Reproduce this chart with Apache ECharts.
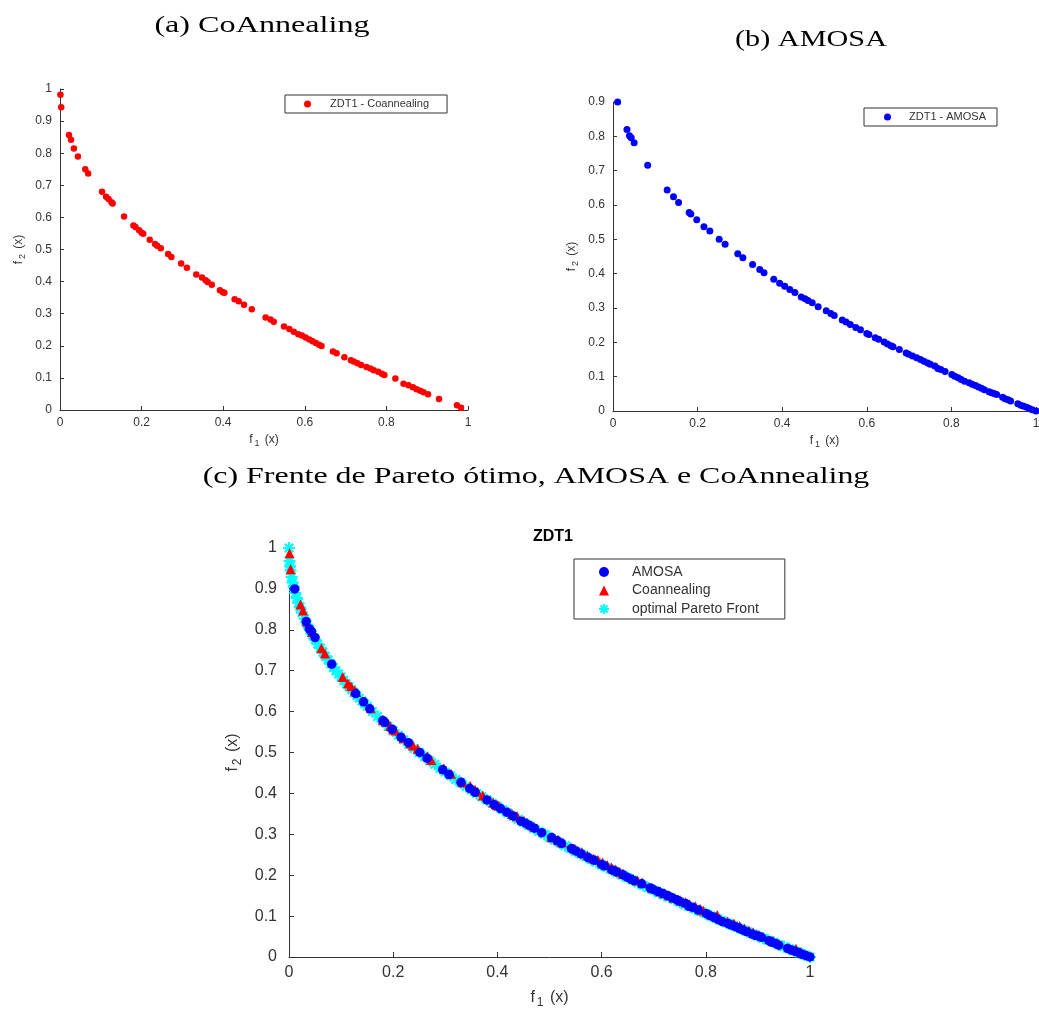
<!DOCTYPE html>
<html>
<head>
<meta charset="utf-8">
<script src="https://cdn.jsdelivr.net/npm/echarts@6/dist/echarts.min.js"></script>
<style>
html,body{margin:0;padding:0;background:#fff;}
#main{width:1039px;height:1010px;}
</style>
</head>
<body>
<div id="main"></div>
<script>
// ---- Data ----
const coX = [0.001,0.003,0.022,0.027,0.034,0.044,0.062,0.069,0.103,0.113,
  0.119,0.126,0.129,0.157,0.180,0.185,0.194,0.200,0.204,0.220,
  0.233,0.238,0.247,0.265,0.273,0.297,0.311,0.334,0.348,0.357,
  0.362,0.372,0.392,0.399,0.403,0.428,0.438,0.451,0.470,0.504,
  0.516,0.524,0.549,0.562,0.573,0.584,0.593,0.602,0.611,0.619,
  0.627,0.635,0.641,0.669,0.678,0.697,0.713,0.720,0.729,0.738,
  0.751,0.761,0.769,0.780,0.789,0.795,0.822,0.842,0.854,0.865,
  0.874,0.883,0.891,0.902,0.929,0.973,0.983];
const coY = [0.982,0.943,0.857,0.842,0.815,0.790,0.750,0.737,0.680,0.664,
  0.657,0.647,0.643,0.603,0.575,0.570,0.560,0.552,0.549,0.530,
  0.517,0.512,0.504,0.486,0.477,0.456,0.443,0.422,0.413,0.404,
  0.399,0.390,0.373,0.367,0.365,0.345,0.339,0.328,0.314,0.288,
  0.282,0.275,0.260,0.252,0.244,0.236,0.232,0.226,0.220,0.214,
  0.209,0.203,0.199,0.182,0.177,0.164,0.155,0.151,0.146,0.140,
  0.134,0.129,0.124,0.119,0.113,0.109,0.098,0.082,0.077,0.071,
  0.065,0.060,0.055,0.049,0.034,0.015,0.007];

const amX = [0.011,0.033,0.039,0.043,0.050,0.082,0.128,0.143,0.155,0.180,
  0.184,0.198,0.215,0.229,0.251,0.265,0.295,0.307,0.330,0.347,
  0.357,0.380,0.394,0.406,0.418,0.430,0.445,0.454,0.461,0.471,
  0.485,0.504,0.515,0.523,0.542,0.551,0.561,0.574,0.585,0.600,
  0.605,0.620,0.628,0.641,0.649,0.657,0.662,0.677,0.693,0.699,
  0.708,0.718,0.727,0.735,0.744,0.750,0.761,0.768,0.775,0.785,
  0.801,0.808,0.816,0.823,0.831,0.842,0.849,0.857,0.864,0.871,
  0.878,0.889,0.895,0.901,0.907,0.921,0.927,0.934,0.940,0.957,
  0.964,0.971,0.978,0.984,0.991,1.000];
const amY = [0.900,0.820,0.802,0.796,0.781,0.716,0.644,0.624,0.607,0.578,
  0.574,0.557,0.537,0.524,0.500,0.486,0.458,0.446,0.427,0.412,
  0.403,0.384,0.372,0.363,0.354,0.345,0.332,0.327,0.322,0.315,
  0.304,0.292,0.284,0.278,0.265,0.259,0.252,0.243,0.237,0.226,
  0.223,0.213,0.209,0.201,0.195,0.190,0.187,0.179,0.169,0.165,
  0.160,0.155,0.150,0.145,0.140,0.136,0.131,0.124,0.121,0.115,
  0.106,0.101,0.097,0.092,0.087,0.082,0.078,0.074,0.070,0.066,
  0.062,0.056,0.053,0.051,0.048,0.040,0.036,0.033,0.029,0.021,
  0.017,0.014,0.011,0.007,0.004,0.000];

const paretoX = [0,0.001,0.002,0.003,0.005,0.007,0.009,0.012,0.015,0.018,
  0.021,0.025,0.03,0.035,0.04,0.045,0.05,0.055,0.06,0.065,
  0.07,0.075,0.08,0.085,0.09,0.095,0.1,0.105,0.11,0.115,
  0.12,0.125,0.13,0.135,0.14,0.145,0.15,0.16,0.17,0.18,
  0.19,0.20,0.21,0.22,0.23,0.24,0.25,0.26,0.27,0.28,
  0.29,0.30,0.31,0.32,0.33,0.34,0.35,0.36,0.37,0.38,
  0.39,0.40,0.41,0.42,0.43,0.44,0.45,0.46,0.47,0.48,
  0.49,0.50,0.51,0.52,0.53,0.54,0.55,0.56,0.57,0.58,
  0.59,0.60,0.61,0.62,0.63,0.64,0.65,0.66,0.67,0.68,
  0.69,0.70,0.71,0.72,0.73,0.74,0.75,0.76,0.77,0.78,
  0.79,0.80,0.81,0.82,0.83,0.84,0.85,0.86,0.87,0.88,
  0.89,0.90,0.91,0.92,0.93,0.94,0.95,0.96,0.97,0.98,
  0.99,1.00];
const paretoY = [1,0.968,0.955,0.945,0.929,0.916,0.905,0.890,0.878,0.866,
  0.855,0.842,0.827,0.813,0.800,0.788,0.776,0.765,0.755,0.745,
  0.735,0.726,0.717,0.708,0.700,0.692,0.684,0.676,0.668,0.661,
  0.654,0.646,0.639,0.633,0.626,0.619,0.613,0.600,0.588,0.576,
  0.564,0.553,0.542,0.531,0.520,0.510,0.500,0.490,0.480,0.471,
  0.461,0.452,0.443,0.434,0.426,0.417,0.408,0.400,0.392,0.384,
  0.376,0.368,0.360,0.352,0.344,0.337,0.329,0.322,0.314,0.307,
  0.300,0.293,0.286,0.279,0.272,0.265,0.258,0.252,0.245,0.238,
  0.232,0.225,0.219,0.213,0.206,0.200,0.194,0.188,0.181,0.175,
  0.169,0.163,0.157,0.151,0.146,0.140,0.134,0.128,0.123,0.117,
  0.111,0.106,0.100,0.094,0.089,0.083,0.078,0.073,0.067,0.062,
  0.057,0.051,0.046,0.041,0.036,0.030,0.025,0.020,0.015,0.010,
  0.005,0];

const titles = ['(a) CoAnnealing', '(b) AMOSA', '(c) Frente de Pareto ótimo, AMOSA e CoAnnealing'];
const seriesNames = ['ZDT1 - Coannealing', 'ZDT1 - AMOSA', 'AMOSA', 'Coannealing', 'optimal Pareto Front'];

function zip(xs, ys) { return xs.map((x, i) => [x, ys[i]]); }

const AX = '#333333';
const SANS = '"Liberation Sans", Arial, Helvetica, sans-serif';
const STAR = 'path://M0 5L10 5M5 0L5 10M1.5 1.5L8.5 8.5M1.5 8.5L8.5 1.5';

function nameRich(sub, fs) {
  return {
    name: '{m|f}{s|' + sub + '}{m| (x)}',
    nameTextStyle: {
      fontFamily: SANS, color: AX,
      rich: {
        m: { fontSize: fs, fontFamily: SANS, color: AX },
        s: { fontSize: Math.round(fs * 0.75), fontFamily: SANS, color: AX, padding: [Math.round(fs * 0.6), 2, 0, 2] }
      }
    }
  };
}

function makeAxis(gridIndex, max, interval, fs, tickLen, margin, sub, nameGap) {
  const nr = nameRich(sub, fs);
  return Object.assign({
    type: 'value', gridIndex: gridIndex, min: 0, max: max, interval: interval,
    nameLocation: 'middle', nameGap: nameGap,
    splitLine: { show: false },
    axisLine: { show: true, onZero: false, lineStyle: { color: AX, width: 1 } },
    axisTick: { show: true, inside: true, length: tickLen, lineStyle: { color: AX } },
    axisLabel: { fontSize: fs, fontFamily: SANS, color: AX, margin: margin }
  }, nr);
}

const chart = echarts.init(document.getElementById('main'), null, { renderer: 'canvas' });

const option = {
  backgroundColor: '#fff',
  animation: false,
  title: [{
    text: 'ZDT1', left: 548, top: 524, textAlign: 'center',
    textStyle: { fontFamily: SANS, fontSize: 16, fontWeight: 'bold', color: '#000' }
  }],
  graphic: [
    { type: 'text', x: 262, y: 26, scaleX: 1.34, silent: true,
      style: { text: titles[0], font: '24px "Liberation Serif", serif', fill: '#000', align: 'center', verticalAlign: 'middle' } },
    { type: 'text', x: 811, y: 40, scaleX: 1.26, silent: true,
      style: { text: titles[1], font: '24px "Liberation Serif", serif', fill: '#000', align: 'center', verticalAlign: 'middle' } },
    { type: 'text', x: 536, y: 477, scaleX: 1.33, silent: true,
      style: { text: titles[2], font: '24px "Liberation Serif", serif', fill: '#000', align: 'center', verticalAlign: 'middle' } }
  ],
  grid: [
    { left: 60, top: 89, width: 408, height: 321, outerBoundsMode: 'none' },
    { left: 613, top: 102, width: 423, height: 309, outerBoundsMode: 'none' },
    { left: 289, top: 548, width: 521, height: 409, outerBoundsMode: 'none' }
  ],
  xAxis: [
    makeAxis(0, 1, 0.2, 12, 4, 7, '1', 22),
    makeAxis(1, 1, 0.2, 12, 4, 7, '1', 22),
    makeAxis(2, 1, 0.2, 16, 5, 8, '1', 30)
  ],
  yAxis: [
    makeAxis(0, 1, 0.1, 12, 4, 8, '2', 33),
    makeAxis(1, 0.9, 0.1, 12, 4, 8, '2', 33),
    makeAxis(2, 1, 0.1, 16, 5, 12, '2', 44)
  ],
  legend: [
    { data: [seriesNames[0]], left: 285, top: 95, orient: 'vertical',
      padding: [3, 18, 3, 19], itemWidth: 7, itemHeight: 7, itemGap: 0,
      borderColor: AX, borderWidth: 1, backgroundColor: '#fff',
      textStyle: { fontFamily: SANS, fontSize: 11, color: AX, lineHeight: 12, padding: [0, 0, 0, 14] } },
    { data: [seriesNames[1]], left: 864, top: 108, orient: 'vertical',
      padding: [3, 11, 3, 20], itemWidth: 7, itemHeight: 7, itemGap: 0,
      borderColor: AX, borderWidth: 1, backgroundColor: '#fff',
      textStyle: { fontFamily: SANS, fontSize: 11, color: AX, lineHeight: 12, padding: [0, 0, 0, 13] } },
    { data: [seriesNames[2], seriesNames[3], seriesNames[4]], left: 574, top: 559, orient: 'vertical',
      padding: [6, 26, 3, 24], itemWidth: 10, itemHeight: 10, itemGap: 4.5,
      borderColor: AX, borderWidth: 1, backgroundColor: '#fff',
      textStyle: { fontFamily: SANS, fontSize: 14, color: AX, lineHeight: 14, padding: [0, 0, 0, 18] } }
  ],
  series: [
    { name: seriesNames[0], type: 'scatter', xAxisIndex: 0, yAxisIndex: 0,
      symbol: 'circle', symbolSize: 6.5, itemStyle: { color: '#ff0000', opacity: 1 },
      data: zip(coX, coY), silent: true },
    { name: seriesNames[1], type: 'scatter', xAxisIndex: 1, yAxisIndex: 1,
      symbol: 'circle', symbolSize: 7, itemStyle: { color: '#0000ff', opacity: 1 },
      data: zip(amX, amY), silent: true },
    { name: seriesNames[4], type: 'scatter', xAxisIndex: 2, yAxisIndex: 2,
      symbol: STAR, symbolSize: 12,
      itemStyle: { color: 'rgba(0,0,0,0)', borderColor: '#00ffff', borderWidth: 2.2, opacity: 1 },
      data: zip(paretoX, paretoY), silent: true },
    { name: seriesNames[3], type: 'scatter', xAxisIndex: 2, yAxisIndex: 2,
      symbol: 'triangle', symbolSize: 10, symbolOffset: [0, -2], itemStyle: { color: '#ff0000', opacity: 1 },
      data: zip(coX, coY), silent: true },
    { name: seriesNames[2], type: 'scatter', xAxisIndex: 2, yAxisIndex: 2,
      symbol: 'circle', symbolSize: 9.5, itemStyle: { color: '#0000ff', opacity: 1 },
      data: zip(amX, amY), silent: true }
  ]
};

chart.setOption(option);
</script>
</body>
</html>
